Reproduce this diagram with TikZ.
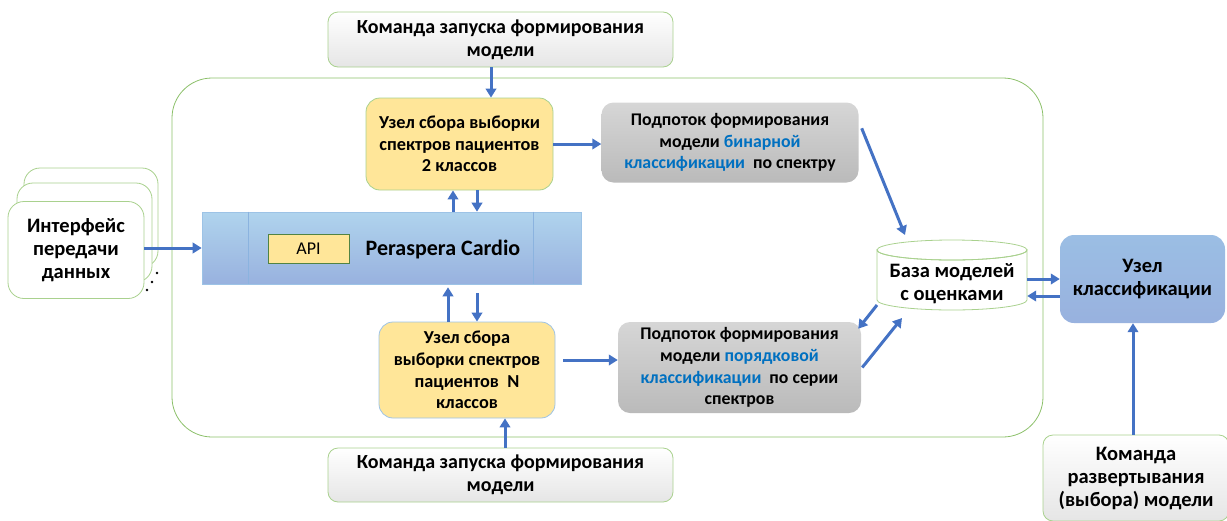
\documentclass[tikz,border=0pt]{standalone}
\usepackage{fontspec}
\setmainfont{Carlito}
\usetikzlibrary{arrows.meta,calc}
\definecolor{arrblue}{HTML}{4472C4}
\definecolor{lgreen}{HTML}{A9D18E}
\definecolor{cgreen}{HTML}{8CC06A}
\definecolor{yfill}{HTML}{FFE699}
\definecolor{lblue}{HTML}{9DC3E6}
\definecolor{txtblue}{HTML}{0070C0}
\begin{document}
\begin{tikzpicture}[x=1pt,y=-1pt,
  arr/.style={draw=arrblue,line width=3pt,-{Triangle[length=9pt,width=10.5pt]}},
  cmdbox/.style={draw=lgreen,line width=0.8pt,rounded corners=10pt,top color=white,bottom color=black!10,
    align=center,font=\fontsize{20}{23}\selectfont\bfseries,inner sep=0pt},
  ybox/.style={draw=lgreen,line width=0.8pt,rounded corners=14pt,fill=yfill,align=center,
    font=\fontsize{18.3}{21.7}\selectfont\bfseries,inner sep=0pt},
  gbox/.style={draw=none,rounded corners=12pt,top color=black!16,bottom color=black!27,align=center,
    font=\fontsize{17.8}{21.7}\selectfont\bfseries,inner sep=0pt},
  wbox/.style={draw=lgreen,line width=0.8pt,rounded corners=16pt,fill=white,inner sep=0pt},
  bigfont/.style={font=\fontsize{20.5}{22.8}\selectfont\bfseries,align=center}
]
\useasboundingbox (0,0) rectangle (1227,520);
% container
\node[draw=cgreen,line width=0.8pt,rounded corners=40pt,minimum width=871pt,minimum height=359pt,inner sep=0pt] (cont) at (607.5,257.5) {};
% command boxes
\node[cmdbox,minimum width=345pt,minimum height=55pt] (cmd1) at (500.5,39.5) {Команда запуска формирования\\модели};
\node[cmdbox,minimum width=345pt,minimum height=54pt] (cmd2) at (500.5,475) {Команда запуска формирования\\модели};
\node[cmdbox,minimum width=186pt,minimum height=86pt,font=\fontsize{20.5}{23}\selectfont\bfseries] (cmd3) at (1136,478) {Команда\\развертывания\\(выбора) модели};
% yellow nodes
\node[ybox,minimum width=187pt,minimum height=92pt] (y1) at (459.5,144) {Узел сбора выборки\\спектров пациентов\\2 классов};
\node[ybox,draw=lblue,minimum width=176pt,minimum height=96pt] (y2) at (467,370) {Узел сбора\\выборки спектров\\пациентов\ \ N\\классов};
% gray nodes
\node[gbox,minimum width=257pt,minimum height=80pt] (g1) at (730,142.5) {Подпоток формирования\\модели \textcolor{txtblue}{бинарной}\\\textcolor{txtblue}{классификации}\ \ по спектру};
\node[gbox,minimum width=243pt,minimum height=91pt] (g2) at (739.5,367.5) {Подпоток формирования\\модели \textcolor{txtblue}{порядковой}\\\textcolor{txtblue}{классификации}\ \ по серии\\спектров};
% Peraspera bar
\node[draw=lblue,line width=0.6pt,top color=blue!8!cyan!5!lblue!75,bottom color=arrblue!55,minimum width=379pt,minimum height=72pt,inner sep=0pt] (bar) at (391.5,248) {};
\draw[lblue!80!arrblue,line width=0.6pt] (bar.north -| 248,0) -- (bar.south -| 248,0);
\draw[lblue!80!arrblue,line width=0.6pt] (bar.north -| 533,0) -- (bar.south -| 533,0);
\node[draw=lgreen!80!green!60!black,line width=0.8pt,fill=yfill,minimum width=81pt,minimum height=29pt,inner sep=0pt,font=\fontsize{18}{20}\selectfont] (api) at (308.5,248.5) {API};
\node[font=\fontsize{22}{24}\selectfont\bfseries,anchor=center] (pc) at (443,250) {Peraspera Cardio};
% interface stack
\node[wbox,minimum width=134pt,minimum height=99pt] (iback) at (91,217.5) {};
\node[wbox,minimum width=135pt,minimum height=99pt] (imid) at (84.5,232.5) {};
\node[wbox,minimum width=136pt,minimum height=97pt,bigfont] (iface) at (76,250) {Интерфейс\\передачи\\данных};
\fill (157,273) circle (1.3pt);
\fill (152,282) circle (1.3pt);
\fill (147,290) circle (1.3pt);
% database cylinder
\node[minimum width=150pt,minimum height=70pt,inner sep=0pt] (db) at (952,283) {};
\draw[draw=lgreen,line width=0.8pt,fill=white] (877,250) -- (877,300) arc[start angle=180,end angle=0,x radius=75,y radius=10] -- (1027,250) arc[start angle=0,end angle=180,x radius=75,y radius=10] -- cycle;
\draw[draw=lgreen,line width=0.8pt] (952,250) ellipse[x radius=75,y radius=10];
\node[bigfont] (dbtext) at (952,284) {База моделей\\с оценками};
% classification node
\node[rounded corners=14pt,top color=lblue!85!arrblue!90,bottom color=arrblue!55,minimum width=165pt,minimum height=88pt,inner sep=0pt,bigfont] (cls) at (1142.5,279) {Узел\\классификации};
% arrows
\draw[arr] (iface.east |- bar.west) -- (bar.west);
\draw[arr] ([xshift=-9.5pt]cmd1.south) -- ([xshift=-9.5pt]cmd1.south |- y1.north);
\draw[arr] (y1.east) -- (y1.east -| g1.west);
\draw[arr] ([xshift=-6.5pt]y1.south |- bar.north) -- ([xshift=-6.5pt]y1.south);
\draw[arr] ([xshift=17.5pt]y1.south) -- ([xshift=17.5pt]y1.south |- bar.north);
\draw[arr] ([xshift=-19pt]y2.north) -- ([xshift=-19pt,yshift=-3pt]y2.north |- bar.south);
\draw[arr] ([xshift=10pt,yshift=-9pt]y2.north |- bar.south) -- ([xshift=10pt]y2.north);
\draw[arr] ([xshift=8pt,yshift=10pt]y2.east) -- ([yshift=10pt]y2.east -| g2.west);
\draw[arr] ([xshift=4.5pt]cmd2.north) -- ([xshift=4.5pt]cmd2.north |- y2.south);
\coordinate (g1out) at ($(g1.north east)+(3,26)$);
\coordinate (dbin) at (905,235);
\draw[arr] (g1out) -- (dbin);
\coordinate (dbout) at (877,305);
\coordinate (g2in) at ($(g2.north east)+(-3,7)$);
\draw[arr] (dbout) -- (g2in);
\coordinate (g2out) at ($(g2.east)+(1,0)$);
\coordinate (dbin2) at (902,318);
\draw[arr] (g2out) -- (dbin2);
\draw[arr] ([yshift=4pt]db.east) -- ([yshift=4pt]db.east -| cls.west);
\draw[arr] ([yshift=-13pt]db.east -| cls.west) -- ([yshift=-13pt]db.east);
\draw[arr] ([xshift=-3pt]cmd3.north) -- ([xshift=-3pt]cmd3.north |- cls.south);
\end{tikzpicture}
\end{document}
